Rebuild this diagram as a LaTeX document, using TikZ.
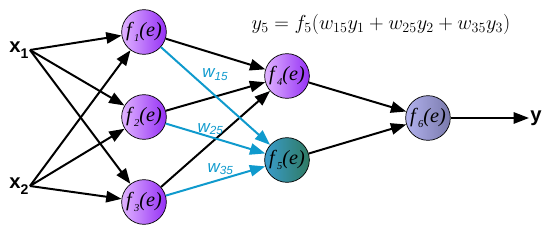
\documentclass[tikz,border=0pt]{standalone}
\usepackage{fontspec}
\setmainfont{Liberation Serif}
\setsansfont{Liberation Sans}
\usetikzlibrary{arrows.meta}
\definecolor{cPuLt}{HTML}{E0B4FF}
\definecolor{cPuDk}{HTML}{9530F5}
\definecolor{cTeLt}{HTML}{3A9CCC}
\definecolor{cTeDk}{HTML}{2F7A62}
\definecolor{cLvLt}{HTML}{B2B2EE}
\definecolor{cLvDk}{HTML}{7A7AAC}
\definecolor{cWire}{HTML}{0F9ACD}

\newcommand{\fnode}[1]{\textit{f}\raisebox{-0.45ex}{\small\textit{#1}}\textit{(e)}}
\newcommand{\inlbl}[1]{\sffamily\bfseries x\raisebox{-0.5ex}{\large #1}}

\begin{document}
\begin{tikzpicture}[x=0.03cm, y=-0.03cm,
  >={Triangle[length=4.6mm,width=3.4mm]},
  neuron/.style={circle, draw=black, line width=0.6pt, minimum size=1.34cm, inner sep=0pt,
                 font=\LARGE},
  hid/.style={neuron, left color=cPuLt, right color=cPuDk},
  outa/.style={neuron, left color=cTeLt, right color=cTeDk},
  outb/.style={neuron, left color=cLvLt, right color=cLvDk},
  io/.style={font=\LARGE, inner sep=1pt},
  flow/.style={->, line width=1.7pt, draw=black},
  wflow/.style={->, line width=1.7pt, draw=cWire},
  wlbl/.style={font=\Large\sffamily\itshape, text=cWire, inner sep=1pt}
]
\useasboundingbox (0,0) rectangle (546,232);

% inputs
\node[io] (x1) at (19,50) {\inlbl{1}};
\node[io] (x2) at (19,186) {\inlbl{2}};

% hidden layer
\node[hid] (f1) at (144,32) {\fnode{1}};
\node[hid] (f2) at (144,117) {\fnode{2}};
\node[hid] (f3) at (144,202) {\fnode{3}};

% second layer
\node[hid] (f4) at (287,76) {\fnode{4}};
\node[outa] (f5) at (287,160) {\fnode{5}};

% output
\node[outb] (f6) at (428,118) {\fnode{6}};
\node[io] (y) at (536,118) {\sffamily\bfseries y};

\node[font=\fontsize{18.6}{22}\selectfont] (eq) at (381,24) {$y_5 = f_5(w_{15}y_1 + w_{25}y_2 + w_{35}y_3)$};

\foreach \s in {x1,x2}
  \foreach \t in {f1,f2,f3}
    \draw[flow] (\s.east) -- (\t);

\foreach \s in {f1,f2,f3}
  \draw[flow] (\s) -- (f4);

\draw[wflow] (f1) -- node[wlbl, pos=0.36, above right=0pt]{w\textsubscript{15}} (f5);
\draw[wflow] (f2) -- node[wlbl, pos=0.45, above=0pt]{w\textsubscript{25}} (f5);
\draw[wflow] (f3) -- node[wlbl, pos=0.55, above=2pt]{w\textsubscript{35}} (f5);

\draw[flow] (f4) -- (f6);
\draw[flow] (f5) -- (f6);
\draw[flow] (f6) -- (y.west);
\end{tikzpicture}
\end{document}
